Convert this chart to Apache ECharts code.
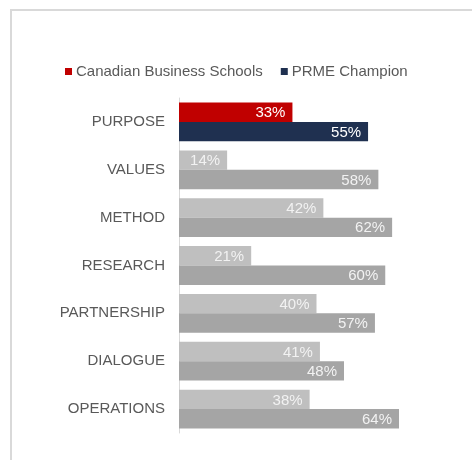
<!DOCTYPE html>
<html><head><meta charset="utf-8">
<script src="https://cdn.jsdelivr.net/npm/echarts@6/dist/echarts.min.js"></script>
<style>
html,body{margin:0;padding:0;background:#fff;overflow:hidden;width:472px;height:460px;}
#lineTop{position:absolute;left:10px;top:9px;width:462px;height:2px;background:#D9D9D9;}
#lineLeft{position:absolute;left:10px;top:9px;width:2px;height:451px;background:#D9D9D9;}
#chart{position:absolute;left:0;top:0;width:472px;height:460px;}
</style></head>
<body>
<div id="lineTop"></div>
<div id="lineLeft"></div>
<div id="chart"></div>
<script>
var categories = ['PURPOSE','VALUES','METHOD','RESEARCH','PARTNERSHIP','DIALOGUE','OPERATIONS'];
var canadianSchools = [33,14,42,21,40,41,38];
var prmeChampion = [55,58,62,60,57,48,64];
var seriesNames = ['Canadian Business Schools','PRME Champion'];

function coloured(vals, highlight, grey){
  return vals.map(function(v,i){ return {value:v, itemStyle:{color: i===0 ? highlight : grey}, label:{color: i===0 ? '#FFFFFF' : '#F2F2F2'}}; });
}
var chart = echarts.init(document.getElementById('chart'));
chart.setOption({
  backgroundColor:'transparent',
  animation:false,
  textStyle:{fontFamily:'Liberation Sans, Arial, sans-serif'},
  legend:{
    left:60, top:59, itemWidth:7, itemHeight:7, itemGap:18,
    icon:'rect',
    textStyle:{color:'#595959', fontSize:15, fontFamily:'Liberation Sans, Arial, sans-serif', padding:[0,0,0,-1]},
    data:[{name:seriesNames[0], itemStyle:{color:'#C00000'}},{name:seriesNames[1], itemStyle:{color:'#1F3050'}}]
  },
  grid:{left:179, top:98, bottom:27, right:18, containLabel:false},
  xAxis:{type:'value', min:0, max:80, show:false},
  yAxis:{type:'category', inverse:true, data:categories,
    axisLine:{show:true, lineStyle:{color:'#D9D9D9', width:1}},
    axisTick:{show:false},
    axisLabel:{color:'#595959', fontSize:15, margin:14, fontFamily:'Liberation Sans, Arial, sans-serif'}
  },
  series:[
    {name:seriesNames[0], type:'bar', data:coloured(canadianSchools,'#C00000','#BFBFBF'),
     barGap:'0%', barCategoryGap:'19%', itemStyle:{color:'#C00000'},
     label:{show:true, position:'insideRight', distance:7, offset:[0,1], fontSize:15, formatter:'{c}%', fontFamily:'Liberation Sans, Arial, sans-serif'}},
    {name:seriesNames[1], type:'bar', data:coloured(prmeChampion,'#1F3050','#A5A5A5'),
     barGap:'0%', barCategoryGap:'19%', itemStyle:{color:'#1F3050'},
     label:{show:true, position:'insideRight', distance:7, offset:[0,1], fontSize:15, formatter:'{c}%', fontFamily:'Liberation Sans, Arial, sans-serif'}}
  ]
});
</script>
</body></html>
